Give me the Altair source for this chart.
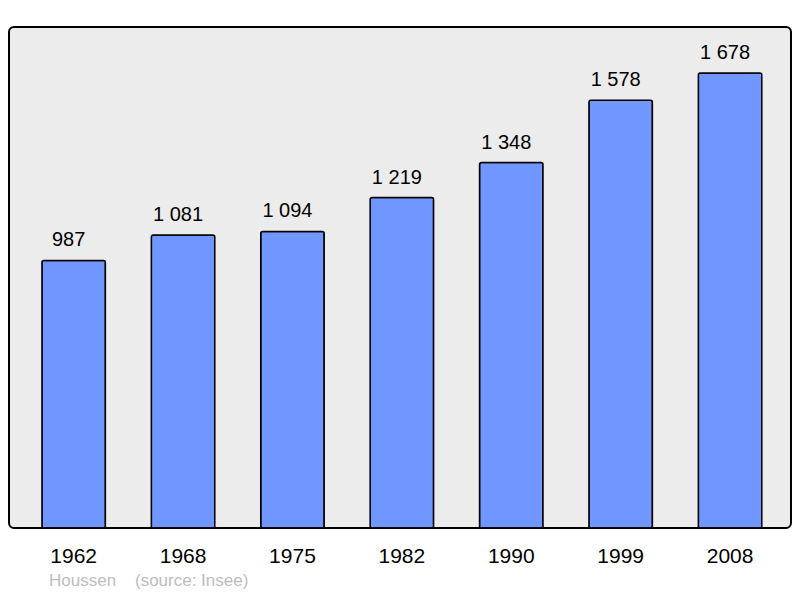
import altair as alt
import pandas as pd

years = ["1962", "1968", "1975", "1982", "1990", "1999", "2008"]
population = [987, 1081, 1094, 1219, 1348, 1578, 1678]
footer_name = "Houssen"
footer_source = "(source: Insee)"

df = pd.DataFrame({
    "year": years,
    "pop": population,
    "label": [f"{v:,}".replace(",", " ") for v in population],
})

W, H = 782, 501

x = alt.X("year:N", sort=years,
          scale=alt.Scale(paddingInner=0.42, paddingOuter=0.284, align=0.53),
          axis=alt.Axis(title=None, labelAngle=0, domain=False, ticks=False,
                        labelFontSize=21, labelPadding=17, labelColor="#000000",
                        labelFont="Liberation Sans"))
y = alt.Y("pop:Q", scale=alt.Scale(domain=[0, 1848], nice=False, zero=True), axis=None)

bars = alt.Chart(df).mark_bar(
    color="#7096ff", stroke="#000000", strokeWidth=1.5,
    cornerRadiusTopLeft=2, cornerRadiusTopRight=2
).encode(x=x, y=y)

labels = alt.Chart(df).mark_text(
    baseline="alphabetic", dy=-14, dx=-5, fontSize=20, font="Liberation Sans", color="#000000"
).encode(x=x, y=y, text="label:N")

footer = alt.Chart(pd.DataFrame({"t": [footer_name + "\u00a0\u00a0\u00a0\u00a0" + footer_source]})).mark_text(
    align="left", baseline="alphabetic", fontSize=17, font="Liberation Sans",
    color="#bdbdbd", clip=False
).encode(x=alt.value(40), y=alt.value(559), text="t:N")

chart = alt.layer(bars, labels, footer).properties(
    width=W, height=H,
    autosize=alt.AutoSizeParams(type="none"),
    padding={"left": 1, "top": 19, "right": 1, "bottom": 62},
).configure_view(
    fill="#ececec", stroke="#000000", strokeWidth=2, cornerRadius=5
)

chart.save("out.html", embed_options={"renderer": "svg", "actions": False})
